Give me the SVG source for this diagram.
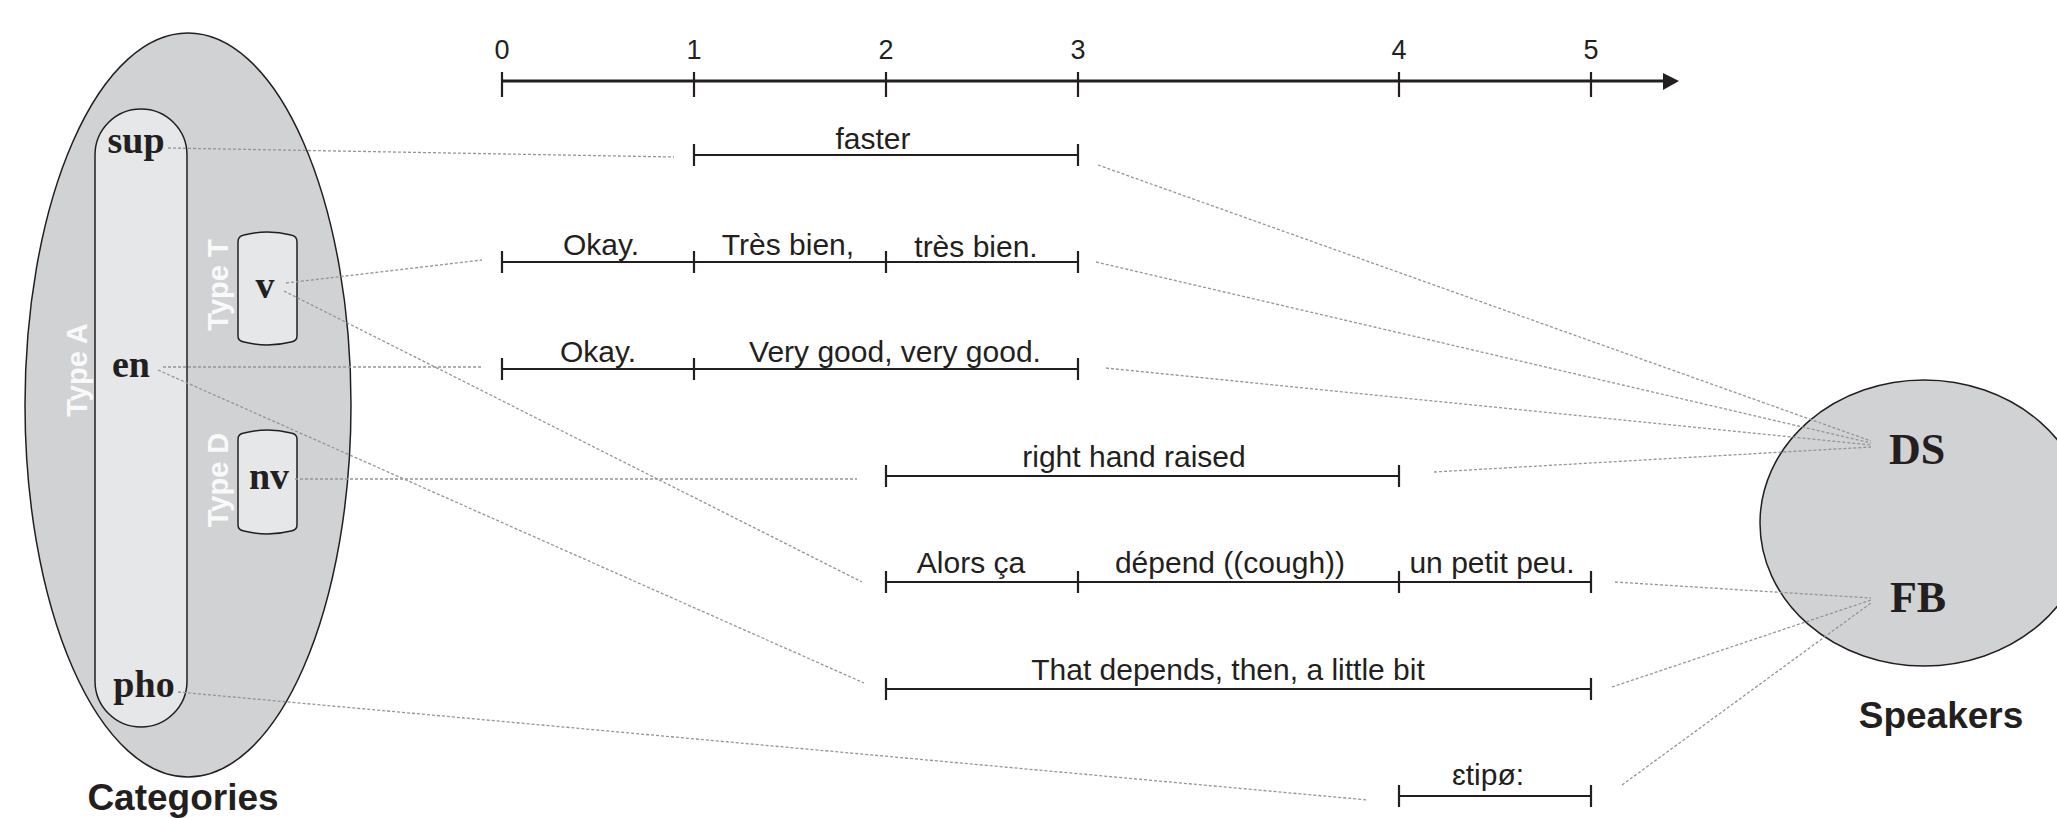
<svg xmlns="http://www.w3.org/2000/svg" width="2057" height="818" viewBox="0 0 2057 818">
  <defs>
    <style>
      .bg { fill: #ffffff; }
      .set { fill: #d1d2d4; stroke: #231f20; stroke-width: 1.5; }
      .inner { fill: #e6e7e8; stroke: #231f20; stroke-width: 1.5; }
      .cat { font-family: "Liberation Serif", "Times New Roman", serif; font-weight: bold; font-size: 38px; fill: #231f20; text-anchor: middle; }
      .spk { font-family: "Liberation Serif", "Times New Roman", serif; font-weight: bold; font-size: 44px; fill: #231f20; text-anchor: middle; }
      .type { font-family: "Liberation Sans", Arial, sans-serif; font-weight: bold; font-size: 29px; fill: #f9f9f9; text-anchor: middle; }
      .title { font-family: "Liberation Sans", Arial, sans-serif; font-weight: bold; font-size: 37px; fill: #231f20; text-anchor: middle; }
      .seg { font-family: "Liberation Sans", Arial, sans-serif; font-size: 30px; fill: #231f20; text-anchor: middle; }
      .num { font-family: "Liberation Sans", Arial, sans-serif; font-size: 27px; fill: #231f20; text-anchor: middle; }
      .axis { stroke: #231f20; stroke-width: 3; fill: none; }
      .tick { stroke: #231f20; stroke-width: 2.2; fill: none; }
      .span { stroke: #231f20; stroke-width: 2; fill: none; }
      .link { stroke: #939598; stroke-width: 1.3; stroke-dasharray: 3 2; fill: none; }
    </style>
  </defs>

  <rect class="bg" x="0" y="0" width="2057" height="818"/>

  <!-- Categories set -->
  <g id="categories">
    <ellipse class="set" cx="188" cy="405" rx="163" ry="372"/>
    <text class="title" x="183" y="810">Categories</text>
  </g>

  <g id="type-a">
    <rect class="inner" x="95" y="109" width="92" height="618" rx="46" ry="46"/>
    <text class="type" transform="translate(87 370) rotate(-90)">Type A</text>
  </g>

  <g id="node-sup">
    <text class="cat" x="136" y="153">sup</text>
  </g>
  <g id="node-en">
    <text class="cat" x="131" y="377">en</text>
  </g>
  <g id="node-pho">
    <text class="cat" x="144" y="697">pho</text>
  </g>

  <g id="type-t">
    <path class="inner" d="M238 242 Q238 236 244 235 Q267.5 229 291 235 Q297 236 297 242 L297 336 Q297 341 291 342 Q267.5 348 244 342 Q238 341 238 336 Z"/>
    <text class="type" transform="translate(228 285) rotate(-90)">Type T</text>
    <text class="cat" x="265" y="298">v</text>
  </g>

  <g id="type-d">
    <path class="inner" d="M238 439 Q238 434 244 433 Q267.5 427 291 433 Q297 434 297 439 L297 525 Q297 530 291 531 Q267.5 537 244 531 Q238 530 238 525 Z"/>
    <text class="type" transform="translate(228 480) rotate(-90)">Type D</text>
    <text class="cat" x="269" y="489">nv</text>
  </g>

  <!-- Time axis -->
  <g id="timeline">
    <line class="axis" x1="502" y1="81" x2="1666" y2="81"/>
    <polygon points="1663,73 1679,81 1663,90" fill="#231f20"/>
    <g class="tick">
      <line x1="502" y1="72" x2="502" y2="97"/>
      <line x1="694" y1="72" x2="694" y2="97"/>
      <line x1="886" y1="72" x2="886" y2="97"/>
      <line x1="1078" y1="72" x2="1078" y2="97"/>
      <line x1="1399" y1="72" x2="1399" y2="97"/>
      <line x1="1591" y1="72" x2="1591" y2="97"/>
    </g>
    <text class="num" x="502" y="59">0</text>
    <text class="num" x="694" y="59">1</text>
    <text class="num" x="886" y="59">2</text>
    <text class="num" x="1078" y="59">3</text>
    <text class="num" x="1399" y="59">4</text>
    <text class="num" x="1591" y="59">5</text>
  </g>

  <!-- Annotation tiers -->
  <g id="tier-faster">
    <path class="span" d="M694 155 H1078"/>
    <path class="tick" d="M694 144 V166 M1078 144 V166"/>
    <text class="seg" x="873" y="149">faster</text>
  </g>

  <g id="tier-fr-1">
    <path class="span" d="M502 262 H1078"/>
    <path class="tick" d="M502 251 V273 M694 251 V273 M886 251 V273 M1078 251 V273"/>
    <text class="seg" x="601" y="255">Okay.</text>
    <text class="seg" x="788" y="255">Très bien,</text>
    <text class="seg" x="976" y="257">très bien.</text>
  </g>

  <g id="tier-en-1">
    <path class="span" d="M502 369 H1078"/>
    <path class="tick" d="M502 358 V380 M694 358 V380 M1078 358 V380"/>
    <text class="seg" x="598" y="362">Okay.</text>
    <text class="seg" x="895" y="362">Very good, very good.</text>
  </g>

  <g id="tier-gesture">
    <path class="span" d="M886 476 H1399"/>
    <path class="tick" d="M886 465 V487 M1399 465 V487"/>
    <text class="seg" x="1134" y="467">right hand raised</text>
  </g>

  <g id="tier-fr-2">
    <path class="span" d="M886 582 H1591"/>
    <path class="tick" d="M886 571 V593 M1078 571 V593 M1399 571 V593 M1591 571 V593"/>
    <text class="seg" x="971" y="573">Alors ça</text>
    <text class="seg" x="1230" y="573">dépend ((cough))</text>
    <text class="seg" x="1492" y="573">un petit peu.</text>
  </g>

  <g id="tier-en-2">
    <path class="span" d="M886 689 H1591"/>
    <path class="tick" d="M886 678 V700 M1591 678 V700"/>
    <text class="seg" x="1228" y="680">That depends, then, a little bit</text>
  </g>

  <g id="tier-pho">
    <path class="span" d="M1399 796 H1591"/>
    <path class="tick" d="M1399 785 V807 M1591 785 V807"/>
    <text class="seg" x="1488" y="785">ɛtipø:</text>
  </g>

  <!-- Speakers set -->
  <g id="speakers">
    <ellipse class="set" cx="1924" cy="523" rx="164" ry="143"/>
    <text class="title" x="1941" y="728">Speakers</text>
  </g>
  <g id="node-ds">
    <text class="spk" x="1917" y="464">DS</text>
  </g>
  <g id="node-fb">
    <text class="spk" x="1918" y="612">FB</text>
  </g>

  <!-- Dotted links between categories, tiers and speakers -->
  <g id="connectors">
    <line class="link" x1="168" y1="148" x2="674" y2="157"/>
    <line class="link" x1="286" y1="283" x2="482" y2="260"/>
    <line class="link" x1="284" y1="291" x2="862" y2="582"/>
    <line class="link" x1="163" y1="367" x2="482" y2="367"/>
    <line class="link" x1="158" y1="370" x2="864" y2="683"/>
    <line class="link" x1="295" y1="479" x2="857" y2="479"/>
    <line class="link" x1="178" y1="692" x2="1368" y2="800"/>

    <line class="link" x1="1098" y1="165" x2="1871" y2="441"/>
    <line class="link" x1="1096" y1="262" x2="1871" y2="443"/>
    <line class="link" x1="1106" y1="368" x2="1871" y2="445"/>
    <line class="link" x1="1434" y1="472" x2="1871" y2="447"/>
    <line class="link" x1="1615" y1="582" x2="1871" y2="598"/>
    <line class="link" x1="1612" y1="687" x2="1871" y2="600"/>
    <line class="link" x1="1622" y1="785" x2="1871" y2="603"/>
  </g>
</svg>
